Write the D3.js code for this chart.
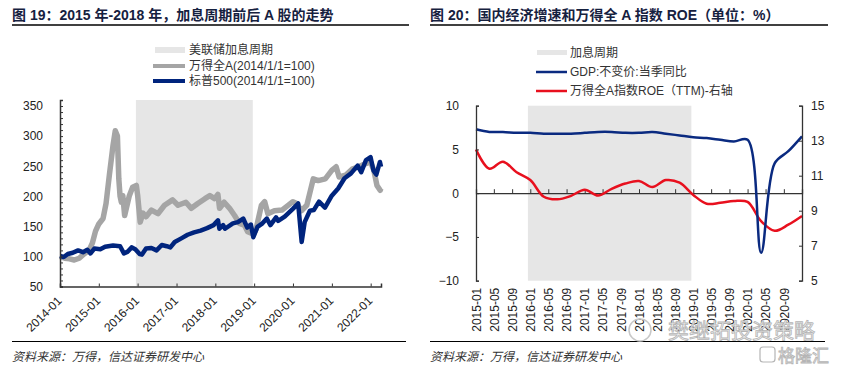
<!DOCTYPE html>
<html>
<head>
<meta charset="utf-8">
<script src="https://cdn.jsdelivr.net/npm/d3@7"></script>
<style>
body { margin: 0; background: #fff; }
text { font-family: "Liberation Sans", Arial, "Noto Sans CJK SC", sans-serif; fill: #222; }
.axis path, .axis line { stroke: #333; }
</style>
</head>
<body>
<script>
// Fed hike cycle
var hikePeriod = ["2015-12-16", "2018-12-19"]

// chart 19: Wind All A vs S&P 500 (2014/1/1 = 100)
var windDates = ["2014-01-01","2014-02-15","2014-04-01","2014-05-15","2014-07-01","2014-08-15","2014-10-01","2014-11-01","2014-12-01",
    "2015-01-01","2015-02-10","2015-03-10","2015-04-10","2015-05-15","2015-06-05","2015-06-25","2015-07-08","2015-07-20","2015-08-01","2015-08-15","2015-09-01","2015-10-15","2015-11-15","2015-12-20",
    "2016-01-01","2016-01-25","2016-02-20","2016-03-20","2016-05-10","2016-07-10","2016-09-10","2016-11-25",
    "2017-01-15","2017-03-30","2017-05-20","2017-07-20","2017-09-25","2017-11-10","2017-12-25",
    "2018-01-25","2018-02-10","2018-03-25","2018-05-15","2018-07-01","2018-08-15","2018-10-01","2018-11-01","2018-12-28",
    "2019-01-20","2019-03-10","2019-04-10","2019-05-10","2019-07-10","2019-09-20","2019-12-31",
    "2020-02-05","2020-03-20","2020-05-10","2020-07-10","2020-08-25","2020-10-31","2020-12-31",
    "2021-02-10","2021-03-10","2021-05-10","2021-07-10","2021-09-10","2021-11-10","2021-12-31",
    "2022-01-31","2022-03-01","2022-03-31","2022-04-08"]
var windValues = [100,97,96,94,97,104,110,122,142,
    154,163,188,235,285,309,300,229,200,190,201,168,201,215,218,
    202,157,172,166,177,171,185,194,
    185,190,180,188,196,201,196,
    203,180,190,180,168,155,152,141,137,
    146,185,191,171,176,177,191,
    188,176,185,229,226,229,243,
    249,232,235,245,249,254,257,
    243,218,210,213]

var spDates = ["2014-01-01","2014-02-05","2014-03-15","2014-05-01","2014-06-20","2014-08-05","2014-09-15","2014-10-15","2014-11-20",
    "2015-01-15","2015-03-01","2015-05-15","2015-07-20","2015-08-25","2015-10-01","2015-11-05","2015-12-10",
    "2016-01-20","2016-02-11","2016-03-20","2016-05-10","2016-06-27","2016-08-15","2016-10-01","2016-11-04","2016-12-15",
    "2017-02-15","2017-04-15","2017-06-15","2017-08-15","2017-10-15","2017-12-15",
    "2018-01-26","2018-02-08","2018-03-15","2018-04-02","2018-06-15","2018-08-01","2018-09-20","2018-10-28","2018-12-01","2018-12-24",
    "2019-02-01","2019-03-20","2019-04-30","2019-06-03","2019-07-26","2019-08-15","2019-10-15","2019-12-31",
    "2020-02-19","2020-03-23","2020-04-20","2020-06-08","2020-07-15","2020-09-02","2020-10-28","2020-12-31",
    "2021-03-01","2021-04-30","2021-06-30","2021-08-31","2021-10-04","2021-11-18","2021-12-31",
    "2022-01-27","2022-02-23","2022-03-29","2022-04-08"]
var spValues = [101,99,104,106,110,107,111,105,113,
    112,116,118,117,105,108,115,112,
    104,103,113,114,110,119,117,115,124,
    130,136,140,143,147,152,
    160,146,152,146,155,157,163,148,153,132,
    149,155,163,152,165,159,166,179,
    188,124,157,176,177,191,181,201,
    213,230,238,251,240,260,265,
    243,236,257,249]

var yearTicks = ["2014-01","2015-01","2016-01","2017-01","2018-01","2019-01","2020-01","2021-01","2022-01"]

// chart 20: GDP yoy (left axis) and Wind All A ROE TTM (right axis), quarterly
var quarterDates = ["2015-01","2015-04","2015-07","2015-10","2016-01","2016-04","2016-07","2016-10",
    "2017-01","2017-04","2017-07","2017-10","2018-01","2018-04","2018-07","2018-10",
    "2019-01","2019-04","2019-07","2019-10","2020-01","2020-04","2020-07","2020-10","2021-01"]
var gdpValues = [7.3,7.0,7.0,6.9,6.9,6.8,6.8,6.8,
    6.9,7.0,7.0,6.9,6.9,7.0,6.8,6.6,
    6.4,6.3,6.1,5.9,6.1,-6.8,3.4,4.8,6.5]
var roeValues = [12.5,11.4,11.8,11.2,10.75,9.8,9.65,9.85,
    10.2,9.87,10.25,10.55,10.7,10.35,10.75,10.6,
    9.9,9.4,9.45,9.55,9.5,8.4,7.85,8.2,8.7]

var monthTicks = ["2015-01","2015-05","2015-09","2016-01","2016-05","2016-09","2017-01","2017-05","2017-09",
    "2018-01","2018-05","2018-09","2019-01","2019-05","2019-09","2020-01","2020-05","2020-09"]

var parse = function (s) { return s.length == 7 ? d3.timeParse("%Y-%m")(s) : d3.timeParse("%Y-%m-%d")(s) }
var fmt = d3.timeFormat("%Y-%m")

var width = 842, height = 372
var svg = d3.select("body")
    .append("svg")
    .attr("width", width)
    .attr("height", height)

// ---------- titles, rules, sources ----------
var titles = [
    {x: 12, x2: 409, text: "图 19：2015 年-2018 年，加息周期前后 A 股的走势"},
    {x: 430, x2: 828, text: "图 20：国内经济增速和万得全 A 指数 ROE（单位：%）"}
]
titles.forEach(function (t) {
    svg.append("text")
        .attr("x", t.x).attr("y", 20)
        .style("font-size", "14px").style("font-weight", "bold")
        .style("fill", "#16213f")
        .text(t.text)
    svg.append("line").attr("x1", t.x).attr("x2", t.x2).attr("y1", 25).attr("y2", 25)
        .attr("stroke", "#000").attr("stroke-width", 1.5)
    svg.append("line").attr("x1", t.x).attr("x2", t.x2 - 3).attr("y1", 341.5).attr("y2", 341.5)
        .attr("stroke", "#000").attr("stroke-width", 1.2)
    svg.append("text")
        .attr("x", t.x).attr("y", 361)
        .style("font-size", "12px").style("font-style", "italic")
        .style("fill", "#333")
        .text("资料来源：万得，信达证券研发中心")
})

// ---------- chart 19 ----------
var x1 = d3.scaleTime()
    .domain([parse("2014-01-01"), parse("2022-04-08")])
    .range([60, 381])
var y1 = d3.scaleLinear()
    .domain([50, 360])
    .range([286.5, 100])

svg.append("rect")
    .attr("x", x1(parse(hikePeriod[0])))
    .attr("y", y1(360))
    .attr("width", x1(parse(hikePeriod[1])) - x1(parse(hikePeriod[0])))
    .attr("height", y1(50) - y1(360))
    .attr("fill", "#e6e6e6")

var line1 = d3.line()
    .x(function (d) { return x1(d.date) })
    .y(function (d) { return y1(d.value) })

var windData = windDates.map(function (d, i) { return {date: parse(d), value: windValues[i]} })
var spData = spDates.map(function (d, i) { return {date: parse(d), value: spValues[i]} })

svg.append("path").datum(windData)
    .attr("d", line1)
    .attr("fill", "none").attr("stroke", "#a5a5a5").attr("stroke-width", 5.5)
    .attr("stroke-linejoin", "round")
svg.append("path").datum(spData)
    .attr("d", line1)
    .attr("fill", "none").attr("stroke", "#00247d").attr("stroke-width", 4.5)
    .attr("stroke-linejoin", "round")

// y axis with minor ticks
svg.append("g")
    .attr("class", "axis")
    .attr("transform", "translate(60,0)")
    .call(d3.axisLeft(y1).tickValues(d3.range(50, 361, 10)).tickSize(-3).tickFormat(""))
    .call(function (g) { g.select(".domain").attr("stroke-width", 1.5) })
var yAx1 = svg.append("g")
    .attr("class", "axis")
    .attr("transform", "translate(60,0)")
    .call(d3.axisLeft(y1).tickValues(d3.range(50, 351, 50)).tickSize(0).tickPadding(17))
yAx1.select(".domain").remove()
yAx1.selectAll("text").style("font-size", "12px").style("fill", "#222")

var xAx1 = svg.append("g")
    .attr("class", "axis")
    .attr("transform", "translate(0," + y1(50) + ")")
    .call(d3.axisBottom(x1).tickValues(yearTicks.map(parse)).tickSize(-3).tickFormat(fmt))
xAx1.select(".domain").attr("stroke-width", 1.5)
xAx1.selectAll("text")
    .attr("y", 0).attr("dy", "0.35em")
    .attr("transform", "translate(-1,12) rotate(-45)")
    .style("text-anchor", "end")
    .style("font-size", "12px").style("fill", "#222")

// legend 19
svg.append("rect").attr("x", 155).attr("y", 47).attr("width", 30).attr("height", 6).attr("fill", "#e6e6e6")
svg.append("line").attr("x1", 153).attr("x2", 185).attr("y1", 66).attr("y2", 66)
    .attr("stroke", "#a5a5a5").attr("stroke-width", 4)
svg.append("line").attr("x1", 153).attr("x2", 185).attr("y1", 81).attr("y2", 81)
    .attr("stroke", "#00247d").attr("stroke-width", 4)
var leg1 = ["美联储加息周期", "万得全A(2014/1/1=100)", "标普500(2014/1/1=100)"]
leg1.forEach(function (t, i) {
    svg.append("text").attr("x", 189).attr("y", 50 + i * 15.5).attr("dy", "0.35em")
        .style("font-size", "12px").style("fill", "#333").text(t)
})

// ---------- chart 20 ----------
var x2 = d3.scaleTime()
    .domain([parse("2015-01"), parse("2021-01")])
    .range([476, 802])
var yL = d3.scaleLinear().domain([-10, 10]).range([280.7, 105.7])
var yR = d3.scaleLinear().domain([5, 15]).range([280.7, 105.7])

svg.append("rect")
    .attr("x", x2(parse(hikePeriod[0])))
    .attr("y", yL(10))
    .attr("width", x2(parse(hikePeriod[1])) - x2(parse(hikePeriod[0])))
    .attr("height", yL(-10) - yL(10))
    .attr("fill", "#e6e6e6")

var qData = quarterDates.map(function (d, i) { return {date: parse(d), gdp: gdpValues[i], roe: roeValues[i]} })

// zero line with upward ticks
var zeroAx = svg.append("g")
    .attr("class", "axis")
    .attr("transform", "translate(0," + yL(0) + ")")
    .call(d3.axisBottom(x2).tickValues(monthTicks.map(parse)).tickSize(-4).tickFormat(""))
zeroAx.select(".domain").attr("stroke", "#000").attr("stroke-width", 1.3)
zeroAx.selectAll("line").attr("stroke", "#000")

svg.append("path").datum(qData)
    .attr("d", d3.line().curve(d3.curveCatmullRom)
        .x(function (d) { return x2(d.date) })
        .y(function (d) { return yR(d.roe) }))
    .attr("fill", "none").attr("stroke", "#e8101e").attr("stroke-width", 2.5)
svg.append("path").datum(qData)
    .attr("d", d3.line().curve(d3.curveCatmullRom)
        .x(function (d) { return x2(d.date) })
        .y(function (d) { return yL(d.gdp) }))
    .attr("fill", "none").attr("stroke", "#0a2a80").attr("stroke-width", 2.5)

var labAx = svg.append("g")
    .attr("transform", "translate(0," + yL(-10) + ")")
    .call(d3.axisBottom(x2).tickValues(monthTicks.map(parse)).tickSize(0).tickFormat(fmt))
labAx.select(".domain").remove()
labAx.selectAll("text")
    .attr("y", 0).attr("dy", "0.35em")
    .attr("transform", "translate(0,7) rotate(-90)")
    .style("text-anchor", "end")
    .style("font-size", "12px").style("fill", "#222")

var yAxL = svg.append("g")
    .attr("class", "axis")
    .attr("transform", "translate(476,0)")
    .call(d3.axisLeft(yL).tickValues([-10, -5, 0, 5, 10]).tickSize(-3).tickPadding(17))
yAxL.select(".domain").attr("stroke-width", 1.3)
yAxL.selectAll("text").style("font-size", "12px").style("fill", "#222")

var yAxR = svg.append("g")
    .attr("class", "axis")
    .attr("transform", "translate(802,0)")
    .call(d3.axisRight(yR).tickValues([5, 7, 9, 11, 13, 15]).tickSize(-3).tickPadding(9))
yAxR.select(".domain").attr("stroke-width", 1.3)
yAxR.selectAll("text").style("font-size", "12px").style("fill", "#222")

// legend 20
svg.append("rect").attr("x", 537).attr("y", 50).attr("width", 30).attr("height", 5).attr("fill", "#e6e6e6")
svg.append("line").attr("x1", 536).attr("x2", 567).attr("y1", 72).attr("y2", 72)
    .attr("stroke", "#0a2a80").attr("stroke-width", 2.5)
svg.append("line").attr("x1", 536).attr("x2", 567).attr("y1", 91).attr("y2", 91)
    .attr("stroke", "#e8101e").attr("stroke-width", 2.5)
var leg2 = ["加息周期", "GDP:不变价:当季同比", "万得全A指数ROE（TTM)-右轴"]
leg2.forEach(function (t, i) {
    svg.append("text").attr("x", 570).attr("y", 53 + i * 19).attr("dy", "0.35em")
        .style("font-size", "12px").style("fill", "#333").text(t)
})

// watermark
svg.append("circle").attr("cx", 640).attr("cy", 330).attr("r", 11)
    .attr("fill", "none").attr("stroke", "#c8c8c8").attr("stroke-width", 1.5)
svg.append("text").attr("x", 668).attr("y", 338)
    .style("font-size", "21px").style("fill", "#f2f2f2").style("stroke", "#b5b5b5").style("stroke-width", 0.8)
    .text("樊继拓投资策略")
svg.append("text").attr("x", 778).attr("y", 362)
    .style("font-size", "17px").style("fill", "#f2f2f2").style("stroke", "#b5b5b5").style("stroke-width", 0.8)
    .text("格隆汇")
svg.append("rect").attr("x", 760).attr("y", 347).attr("width", 15).attr("height", 15).attr("rx", 3)
    .attr("fill", "none").attr("stroke", "#b5b5b5").attr("stroke-width", 1.2)
</script>
</body>
</html>
